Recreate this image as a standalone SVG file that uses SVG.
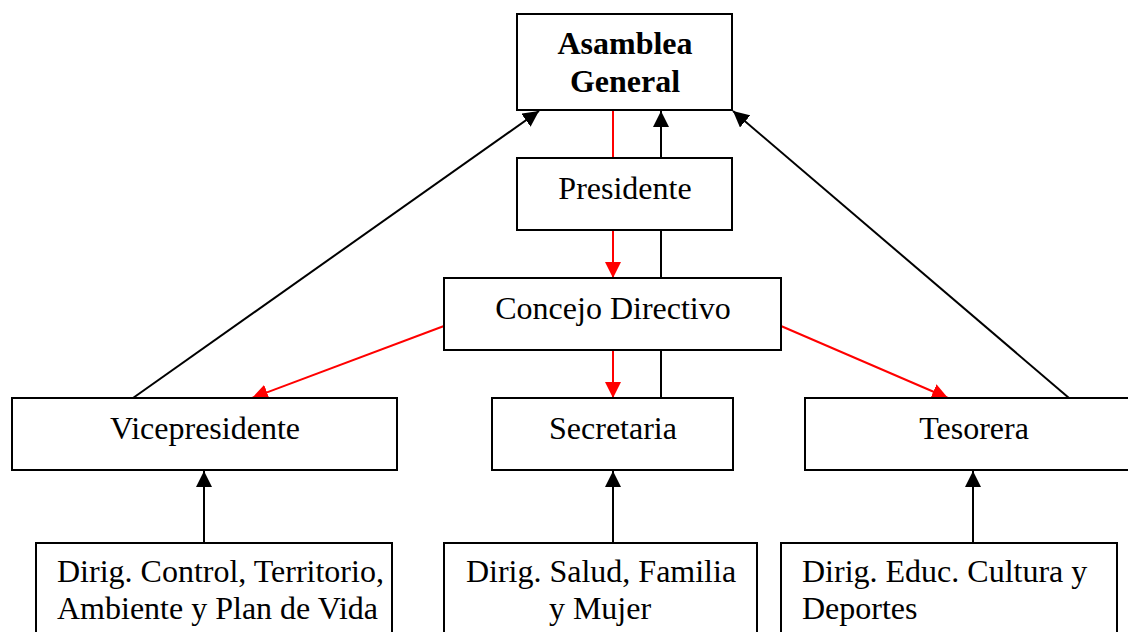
<svg xmlns="http://www.w3.org/2000/svg" width="1128" height="632" viewBox="0 0 1128 632">
<style>
.box{fill:#fff;stroke:#000;stroke-width:2}
.t{font-family:"Liberation Serif","Times New Roman",serif;font-size:32px;fill:#000}
.c{text-anchor:middle}
.b{font-weight:bold}
.blk{stroke:#000;stroke-width:2;fill:none}
.red{stroke:#ff0000;stroke-width:2;fill:none}
</style>
<defs>
<marker id="ab" markerUnits="userSpaceOnUse" markerWidth="16" markerHeight="16" viewBox="0 0 16 16" refX="16" refY="8" orient="auto"><path d="M0,0 L16,8 L0,16 Z" fill="#000"/></marker>
<marker id="ar" markerUnits="userSpaceOnUse" markerWidth="16" markerHeight="16" viewBox="0 0 16 16" refX="16" refY="8" orient="auto"><path d="M0,0 L16,8 L0,16 Z" fill="#ff0000"/></marker>
</defs>
<g id="connectors">
<line class="blk" x1="133" y1="398" x2="539" y2="111" marker-end="url(#ab)"/>
<line class="blk" x1="1069" y1="398" x2="733" y2="111" marker-end="url(#ab)"/>
<line class="blk" x1="661" y1="398" x2="661" y2="111" marker-end="url(#ab)"/>
<line class="red" x1="613" y1="110" x2="613" y2="278" marker-end="url(#ar)"/>
<line class="red" x1="613" y1="350" x2="613" y2="398" marker-end="url(#ar)"/>
<line class="red" x1="444" y1="326" x2="252" y2="398" marker-end="url(#ar)"/>
<line class="red" x1="781" y1="326" x2="948" y2="398" marker-end="url(#ar)"/>
<line class="blk" x1="204" y1="543" x2="204" y2="471" marker-end="url(#ab)"/>
<line class="blk" x1="613" y1="543" x2="613" y2="471" marker-end="url(#ab)"/>
<line class="blk" x1="973" y1="543" x2="973" y2="471" marker-end="url(#ab)"/>
</g>
<g id="asamblea">
<rect class="box" x="517" y="14" width="215" height="96"/>
<text class="t c b" x="625" y="54">Asamblea</text>
<text class="t c b" x="625" y="92">General</text>
</g>
<g id="presidente">
<rect class="box" x="517" y="158" width="215" height="72"/>
<text class="t c" x="625" y="199">Presidente</text>
</g>
<g id="concejo">
<rect class="box" x="444" y="278" width="337" height="72"/>
<text class="t c" x="613" y="319">Concejo Directivo</text>
</g>
<g id="vicepresidente">
<rect class="box" x="12" y="398" width="385" height="72"/>
<text class="t c" x="205" y="439">Vicepresidente</text>
</g>
<g id="secretaria">
<rect class="box" x="492" y="398" width="241" height="72"/>
<text class="t c" x="613" y="439">Secretaria</text>
</g>
<g id="tesorera">
<rect class="box" x="805" y="398" width="340" height="72"/>
<text class="t c" x="974" y="439">Tesorera</text>
</g>
<g id="dirig-control">
<rect class="box" x="36" y="543" width="356" height="100"/>
<text class="t" x="57" y="582">Dirig. Control, Territorio,</text>
<text class="t" x="57" y="619">Ambiente y Plan de Vida</text>
</g>
<g id="dirig-salud">
<rect class="box" x="444" y="543" width="313" height="100"/>
<text class="t c" x="601" y="582">Dirig. Salud, Familia</text>
<text class="t c" x="600" y="619">y Mujer</text>
</g>
<g id="dirig-educ">
<rect class="box" x="781" y="543" width="336" height="100"/>
<text class="t" x="802" y="582">Dirig. Educ. Cultura y</text>
<text class="t" x="802" y="619">Deportes</text>
</g>
</svg>
